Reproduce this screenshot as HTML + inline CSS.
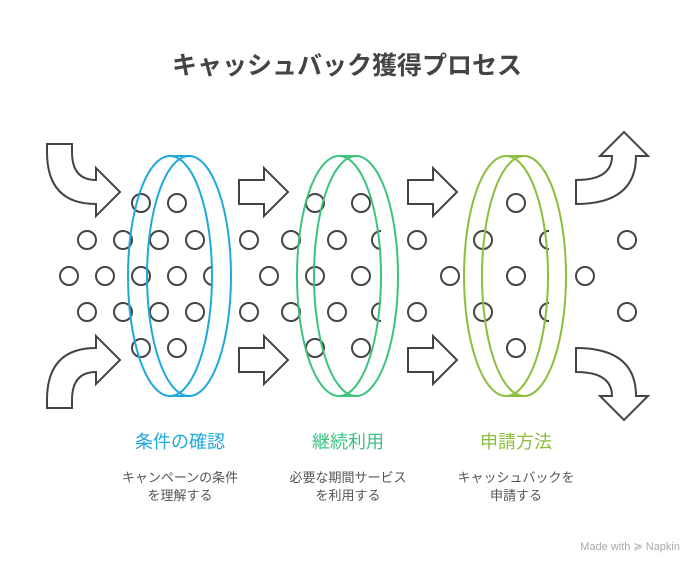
<!DOCTYPE html>
<html><head><meta charset="utf-8"><style>
html,body{margin:0;padding:0;background:#fff;}
svg{display:block;}
text{font-family:"Liberation Sans","Noto Sans CJK JP",sans-serif;}
</style></head><body>
<svg width="696" height="564" viewBox="0 0 696 564" xmlns="http://www.w3.org/2000/svg">
<text x="347" y="74" text-anchor="middle" font-size="25" font-weight="bold" fill="#444">キャッシュバック獲得プロセス</text>

<g fill="none" stroke="#444" stroke-width="2">
<path d="M47,144 H72 V152 Q72,180 96,180 V168 L120,192 L96,216 V204 Q47,204 47,152 Z"/>
<path d="M47,408 H72 V400 Q72,372 96,372 V384 L120,360 L96,336 V348 Q47,348 47,400 Z"/>
<path d="M239,180 H264 V168 L288,192 L264,216 V204 H239 Z"/>
<path d="M239,348 H264 V336 L288,360 L264,384 V372 H239 Z"/>
<path d="M408,180 H433 V168 L457,192 L433,216 V204 H408 Z"/>
<path d="M408,348 H433 V336 L457,360 L433,384 V372 H408 Z"/>
<path d="M576,180 Q612,180 612,156 H600 L624,132 L648,156 H636 Q636,204 576,204 Z"/>
<path d="M576,372 Q612,372 612,396 H600 L624,420 L648,396 H636 Q636,348 576,348 Z"/>

<g>
<circle cx="141" cy="203" r="9"/><circle cx="177" cy="203" r="9"/>
<circle cx="87" cy="240" r="9"/><circle cx="123" cy="240" r="9"/><circle cx="159" cy="240" r="9"/><circle cx="195" cy="240" r="9"/>
<circle cx="69" cy="276" r="9"/><circle cx="105" cy="276" r="9"/><circle cx="141" cy="276" r="9"/><circle cx="177" cy="276" r="9"/>
<path d="M213,267 A9,9 0 0 0 213,285"/>
<circle cx="87" cy="312" r="9"/><circle cx="123" cy="312" r="9"/><circle cx="159" cy="312" r="9"/><circle cx="195" cy="312" r="9"/>
<circle cx="141" cy="348" r="9"/><circle cx="177" cy="348" r="9"/>

<circle cx="315" cy="203" r="9"/><circle cx="361" cy="203" r="9"/>
<circle cx="249" cy="240" r="9"/><circle cx="291" cy="240" r="9"/><circle cx="337" cy="240" r="9"/>
<path d="M381,231 A9,9 0 0 0 381,249"/><circle cx="417" cy="240" r="9"/>
<circle cx="269" cy="276" r="9"/><circle cx="315" cy="276" r="9"/><circle cx="361" cy="276" r="9"/><circle cx="450" cy="276" r="9"/>
<circle cx="249" cy="312" r="9"/><circle cx="291" cy="312" r="9"/><circle cx="337" cy="312" r="9"/>
<path d="M381,303 A9,9 0 0 0 381,321"/><circle cx="417" cy="312" r="9"/>
<circle cx="315" cy="348" r="9"/><circle cx="361" cy="348" r="9"/>

<circle cx="516" cy="203" r="9"/>
<circle cx="483" cy="240" r="9"/><path d="M549,231 A9,9 0 0 0 549,249"/><circle cx="627" cy="240" r="9"/>
<circle cx="516" cy="276" r="9"/><circle cx="585" cy="276" r="9"/>
<circle cx="483" cy="312" r="9"/><path d="M549,303 A9,9 0 0 0 549,321"/><circle cx="627" cy="312" r="9"/>
<circle cx="516" cy="348" r="9"/>
</g>
</g>

<g fill="none" stroke-width="2">
<g stroke="#1fa8dc">
<ellipse cx="170" cy="276" rx="42" ry="120"/><ellipse cx="189" cy="276" rx="42" ry="120"/>
<line x1="170" y1="156" x2="189" y2="156"/><line x1="170" y1="396" x2="189" y2="396"/>
</g>
<g stroke="#3cc27f">
<ellipse cx="339" cy="276" rx="42" ry="120"/><ellipse cx="356" cy="276" rx="42" ry="120"/>
<line x1="339" y1="156" x2="356" y2="156"/><line x1="339" y1="396" x2="356" y2="396"/>
</g>
<g stroke="#8dbd3c">
<ellipse cx="506" cy="276" rx="42" ry="120"/><ellipse cx="524" cy="276" rx="42" ry="120"/>
<line x1="506" y1="156" x2="524" y2="156"/><line x1="506" y1="396" x2="524" y2="396"/>
</g>
</g>

<g text-anchor="middle">
<text x="180" y="448" font-size="18" fill="#1fa8dc">条件の確認</text>
<text x="348" y="448" font-size="18" fill="#3cc27f">継続利用</text>
<text x="516" y="448" font-size="18" fill="#8dbd3c">申請方法</text>
<g font-size="13" fill="#555">
<text x="180" y="482">キャンペーンの条件</text><text x="180" y="500">を理解する</text>
<text x="348" y="482">必要な期間サービス</text><text x="348" y="500">を利用する</text>
<text x="516" y="482">キャッシュバックを</text><text x="516" y="500">申請する</text>
</g>
</g>
<text x="680" y="550" text-anchor="end" font-size="11" fill="#aaa">Made with ≽ Napkin</text>
</svg>
</body></html>
